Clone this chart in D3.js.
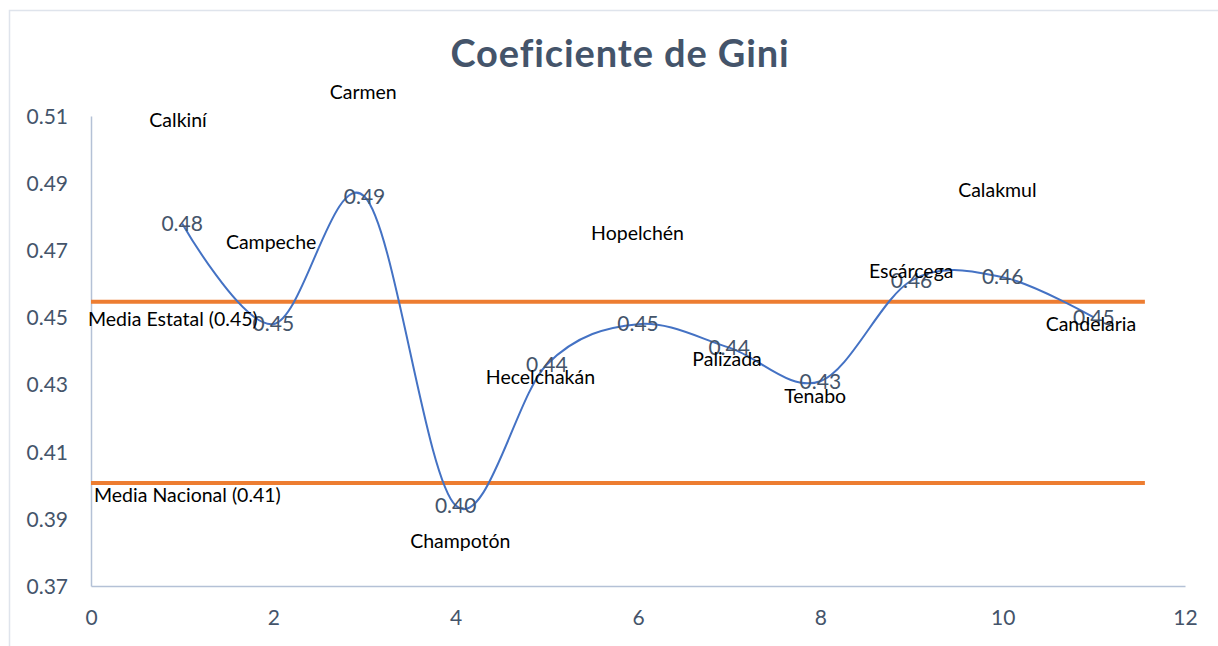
<!DOCTYPE html>
<html>
<head>
<meta charset="utf-8">
<script src="https://cdn.jsdelivr.net/npm/d3@7/dist/d3.min.js"></script>
<style>
  html, body { margin: 0; padding: 0; background: #fff; }
  svg { display: block; }
</style>
</head>
<body>
<svg id="chart" width="1218" height="646"></svg>
<script>
// ---------- data ----------
const municipios = ["Calkiní","Campeche","Carmen","Champotón","Hecelchakán","Hopelchén","Palizada","Tenabo","Escárcega","Calakmul","Candelaria"];
const xValues = [1,2,3,4,5,6,7,8,9,10,11];
const gini = [0.478,0.448,0.486,0.394,0.436,0.448,0.441,0.431,0.461,0.462,0.450];
const giniLabels = ["0.48","0.45","0.49","0.40","0.44","0.45","0.44","0.43","0.46","0.46","0.45"];
// anchor points (data units) of the municipality name labels
const nameX = [0.955,1.976,2.986,4.051,4.930,5.995,6.977,7.943,8.997,9.942,10.968];
const nameY = [0.5089,0.4725,0.5170,0.3834,0.4323,0.4752,0.4377,0.4264,0.4639,0.4880,0.4479];
const refNames = ["Media Estatal (0.45)","Media Nacional (0.41)"];
const refValues = [0.4547,0.4007];
const refExtent = [0, 11.56];
const xTicks = [0,2,4,6,8,10,12];
const yTicks = [0.37,0.39,0.41,0.43,0.45,0.47,0.49,0.51];
const title = "Coeficiente de Gini";

(function(){
// ---------- layout ----------
const svg = d3.select("#chart");
const pLeft = 91, pRight = 1185, pTop = 116, pBottom = 586;
const x = d3.scaleLinear().domain([0,12]).range([pLeft,pRight]);
const y = d3.scaleLinear().domain([0.37,0.51]).range([pBottom,pTop]);
const FONT = "Lato, 'Noto Sans', sans-serif";
const textBlue = "#44546a";

// chart frame
svg.append("rect").attr("x",9.5).attr("y",10.5).attr("width",1300).attr("height",700)
  .attr("fill","none").attr("stroke","#dfe4ec").attr("stroke-width",1.5);

// title
svg.append("text").attr("x",620).attr("y",67).attr("text-anchor","middle")
  .attr("font-family",FONT).attr("font-weight","bold").attr("font-size",38)
  .attr("letter-spacing",0.9)
  .attr("fill",textBlue).text(title);

// axes
const xAxis = d3.axisBottom(x).tickValues(xTicks).tickSize(0).tickPadding(24).tickFormat(d3.format("d"));
const yAxis = d3.axisLeft(y).tickValues(yTicks).tickSize(0).tickPadding(23).tickFormat(d3.format(".2f"));
const gx = svg.append("g").attr("transform",`translate(0,${pBottom})`).call(xAxis);
const gy = svg.append("g").attr("transform",`translate(${pLeft},0)`).call(yAxis);
[gx,gy].forEach(g=>{
  g.select(".domain").attr("stroke","#b4c1d6").attr("stroke-width",1.5);
  g.selectAll("text").attr("font-family",FONT).attr("font-size",21).attr("fill",textBlue);
});
gy.selectAll("text").attr("dy","0.35em");

// reference lines
svg.selectAll("line.ref").data(refValues).enter().append("line").attr("class","ref")
  .attr("x1",x(refExtent[0])).attr("x2",x(refExtent[1]))
  .attr("y1",d=>y(d)).attr("y2",d=>y(d))
  .attr("stroke","#ed7d31").attr("stroke-width",4);

// gini series
const pts = xValues.map((v,i)=>[v,gini[i]]);
const line = d3.line().x(d=>x(d[0])).y(d=>y(d[1])).curve(d3.curveCardinal.tension(0));
svg.append("path").datum(pts).attr("d",line).attr("fill","none")
  .attr("stroke","#4472c4").attr("stroke-width",2);

// value labels
svg.selectAll("text.val").data(pts).enter().append("text").attr("class","val")
  .attr("x",d=>x(d[0])).attr("y",d=>y(d[1])).attr("dy","0.35em")
  .attr("text-anchor","middle").attr("font-family",FONT).attr("font-size",21)
  .attr("fill",textBlue).text((d,i)=>giniLabels[i]);

// municipality labels
svg.selectAll("text.name").data(municipios).enter().append("text").attr("class","name")
  .attr("x",(d,i)=>x(nameX[i])).attr("y",(d,i)=>y(nameY[i])).attr("dy","0.35em")
  .attr("text-anchor","middle").attr("font-family",FONT).attr("font-size",19.5)
  .attr("fill","#000").text(d=>d);

// reference labels
svg.selectAll("text.reflab").data(refNames).enter().append("text").attr("class","reflab")
  .attr("x",(d,i)=>[88,94][i]).attr("y",(d,i)=>y(refValues[i]) + [18,12][i]).attr("dy","0.35em")
  .attr("font-family",FONT).attr("font-size",19.5).attr("fill","#000").text(d=>d);
})();
</script>
</body>
</html>
